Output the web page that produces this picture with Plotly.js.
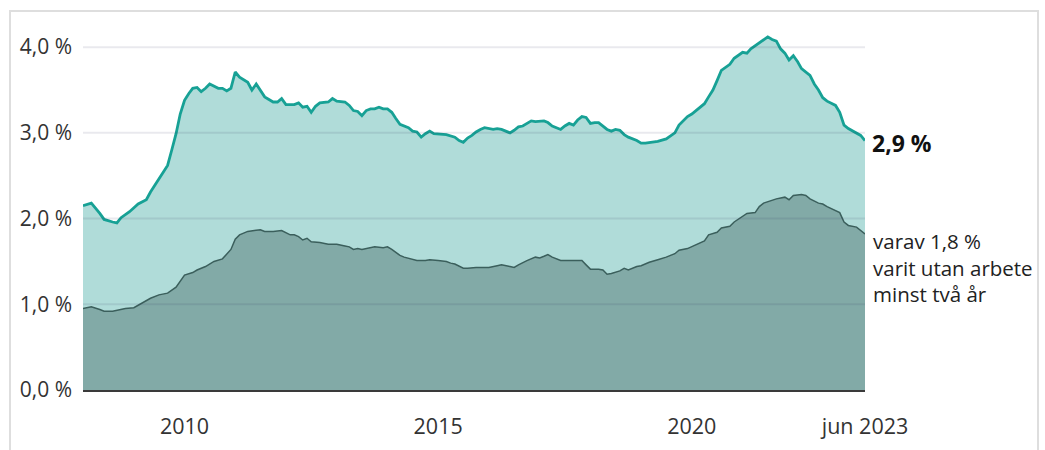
<!DOCTYPE html>
<html>
<head>
<meta charset="utf-8">
<script src="https://cdn.plot.ly/plotly-3.0.1.min.js"></script>
<style>
  html, body { margin: 0; padding: 0; background: #fff; }
  #wrap { position: relative; width: 1045px; height: 450px; overflow: hidden; }
  #chart { position: absolute; left: 0; top: 0; width: 1045px; height: 450px; }
  #frame { position: absolute; left: 9px; top: 10px; width: 1030px; height: 460px;
           border: 2px solid #dedede; pointer-events: none; box-sizing: border-box; }
</style>
</head>
<body>
<div id="wrap"><div id="chart"></div><div id="frame"></div></div>
<script>
// Total share of registered unemployed (%)
const totalDates = ["2008-01","2008-03","2008-05","2008-06","2008-08","2008-09","2008-10","2008-12",
"2009-02","2009-04","2009-05","2009-07","2009-09","2009-10","2009-11","2009-12",
"2010-01","2010-02","2010-03","2010-04","2010-05","2010-06","2010-07","2010-09","2010-10","2010-11","2010-12",
"2011-01","2011-02","2011-04","2011-05","2011-06","2011-07","2011-08","2011-10","2011-11","2011-12",
"2012-01","2012-03","2012-04","2012-05","2012-06","2012-07","2012-08","2012-09","2012-11","2012-12",
"2013-01","2013-03","2013-04","2013-05","2013-06","2013-07","2013-08","2013-09","2013-10","2013-11","2013-12",
"2014-01","2014-02","2014-03","2014-04","2014-06","2014-07","2014-08","2014-09","2014-10","2014-11","2014-12",
"2015-02","2015-03","2015-05","2015-06","2015-07","2015-08","2015-09","2015-10","2015-11","2015-12",
"2016-02","2016-03","2016-04","2016-05","2016-06","2016-07","2016-08","2016-09","2016-11","2016-12",
"2017-02","2017-03","2017-04","2017-06","2017-07","2017-08","2017-09","2017-10","2017-11","2017-12",
"2018-01","2018-02","2018-03","2018-05","2018-06","2018-07","2018-08","2018-09","2018-10","2018-12",
"2019-01","2019-02","2019-04","2019-05","2019-07","2019-09","2019-10","2019-12",
"2020-01","2020-02","2020-04","2020-05","2020-06","2020-07","2020-08","2020-10","2020-11",
"2021-01","2021-02","2021-03","2021-05","2021-06","2021-07","2021-08","2021-09","2021-10","2021-11","2021-12",
"2022-01","2022-02","2022-03","2022-05","2022-06","2022-07","2022-08","2022-09","2022-11","2022-12",
"2023-01","2023-02","2023-04","2023-05","2023-06"];
const totalValues = [2.15,2.18,2.06,1.99,1.96,1.95,2.01,2.08,
2.17,2.22,2.31,2.47,2.62,2.80,2.99,3.22,
3.38,3.46,3.52,3.53,3.48,3.52,3.57,3.52,3.52,3.49,3.52,
3.71,3.65,3.59,3.50,3.57,3.50,3.42,3.36,3.36,3.40,
3.33,3.33,3.35,3.30,3.31,3.24,3.31,3.35,3.36,3.40,
3.37,3.36,3.32,3.26,3.25,3.20,3.26,3.28,3.28,3.30,3.28,
3.28,3.24,3.17,3.10,3.06,3.02,3.01,2.95,2.99,3.02,2.99,
2.98,2.98,2.95,2.91,2.89,2.94,2.97,3.01,3.04,3.06,
3.04,3.05,3.04,3.02,3.00,3.03,3.07,3.08,3.14,3.13,
3.14,3.12,3.08,3.04,3.08,3.11,3.09,3.15,3.19,3.18,
3.11,3.12,3.12,3.04,3.02,3.04,3.03,2.98,2.95,2.91,
2.88,2.88,2.89,2.90,2.93,3.00,3.09,3.19,
3.22,3.26,3.34,3.42,3.50,3.61,3.73,3.80,3.87,
3.94,3.93,3.98,4.05,4.08,4.12,4.09,4.07,3.98,3.93,3.85,
3.90,3.83,3.75,3.67,3.57,3.50,3.41,3.37,3.32,3.24,
3.09,3.05,3.00,2.97,2.91];

// Of which: without work at least two years (%)
const longDates = ["2008-01","2008-03","2008-05","2008-06","2008-08","2008-11",
"2009-01","2009-03","2009-05","2009-07","2009-09","2009-11","2009-12",
"2010-01","2010-03","2010-04","2010-06","2010-08","2010-10","2010-11","2010-12",
"2011-01","2011-02","2011-04","2011-06","2011-07","2011-08","2011-10","2011-12",
"2012-02","2012-03","2012-04","2012-05","2012-06","2012-07","2012-09","2012-11",
"2013-01","2013-03","2013-04","2013-05","2013-06","2013-07","2013-08","2013-10","2013-12",
"2014-01","2014-02","2014-04","2014-05","2014-07","2014-08","2014-10","2014-11",
"2015-01","2015-03","2015-04","2015-05","2015-07","2015-08","2015-10",
"2016-01","2016-03","2016-04","2016-06","2016-07","2016-08","2016-10","2016-12",
"2017-01","2017-02","2017-03","2017-04","2017-06","2017-08","2017-09","2017-11","2017-12",
"2018-01","2018-03","2018-04","2018-05","2018-06","2018-08","2018-09","2018-10","2018-12",
"2019-01","2019-03","2019-05","2019-07","2019-09","2019-10","2019-12",
"2020-02","2020-04","2020-05","2020-07","2020-08","2020-10","2020-11",
"2021-01","2021-02","2021-04","2021-05","2021-06","2021-08","2021-09","2021-11","2021-12",
"2022-01","2022-03","2022-04","2022-05","2022-07","2022-08","2022-09","2022-10","2022-12",
"2023-01","2023-02","2023-04","2023-05","2023-06"];
const longValues = [0.95,0.97,0.94,0.92,0.92,0.95,
0.96,1.01,1.07,1.11,1.13,1.20,1.27,
1.34,1.37,1.40,1.44,1.50,1.53,1.59,1.64,
1.76,1.81,1.85,1.86,1.87,1.85,1.85,1.86,
1.81,1.81,1.79,1.75,1.77,1.73,1.72,1.70,
1.70,1.68,1.67,1.64,1.65,1.64,1.65,1.67,1.66,
1.67,1.64,1.57,1.55,1.52,1.51,1.51,1.52,
1.51,1.50,1.48,1.47,1.42,1.42,1.43,
1.43,1.45,1.46,1.44,1.43,1.46,1.51,1.55,
1.54,1.56,1.58,1.55,1.51,1.51,1.51,1.51,1.46,
1.41,1.41,1.40,1.35,1.36,1.39,1.42,1.40,1.44,
1.45,1.49,1.52,1.55,1.59,1.63,1.65,
1.70,1.74,1.81,1.84,1.89,1.91,1.96,
2.02,2.06,2.07,2.14,2.18,2.21,2.23,2.25,2.22,
2.27,2.28,2.27,2.23,2.18,2.17,2.14,2.12,2.07,
1.96,1.92,1.90,1.86,1.82];

const xTickVals = ["2010-01-01","2015-01-01","2020-01-01","2023-06-01"];
const xTickText = ["2010","2015","2020","jun 2023"];
const yTickVals = [0, 1, 2, 3, 4];
const yTickText = ["0,0 %","1,0 %","2,0 %","3,0 %","4,0 %"];
const totalLabel = "<b>2,9 %</b>";
const longLabelLines = ["varav 1,8 %", "varit utan arbete", "minst två år"];

const traces = [
  {
    x: totalDates, y: totalValues, type: "scatter", mode: "lines",
    fill: "tozeroy", fillcolor: "#b0dcd9",
    line: { color: "#17a195", width: 2.8 }, hoverinfo: "skip"
  },
  {
    x: longDates, y: longValues, type: "scatter", mode: "lines",
    fill: "tozeroy", fillcolor: "#82aaa7",
    line: { color: "#3b5f5c", width: 1.5 }, hoverinfo: "skip"
  }
];

const gridShapes = yTickVals.filter(v => v > 0).map(v => ({
  type: "line", xref: "paper", x0: 0, x1: 1, yref: "y", y0: v, y1: v,
  layer: "above", line: { color: "rgba(40,40,90,0.10)", width: 2 }
}));

const lastT = totalDates.length - 1;
const lastL = longDates.length - 1;
const annotations = [
  {
    x: totalDates[lastT], y: totalValues[lastT], xref: "x", yref: "y",
    text: totalLabel, showarrow: false, xanchor: "left", yanchor: "middle",
    xshift: 5, yshift: -2, font: { size: 23, color: "#111", family: "Open Sans" }
  },
  {
    x: longDates[lastL], y: longValues[lastL], xref: "x", yref: "y",
    text: longLabelLines.join("<br>"), showarrow: false, xanchor: "left", yanchor: "middle",
    align: "left", xshift: 6, yshift: -33,
    font: { size: 20.5, color: "#222", family: "Open Sans" }
  }
];

const layout = {
  width: 1045, height: 450,
  margin: { l: 83, r: 180, t: 30, b: 60 },
  paper_bgcolor: "#ffffff", plot_bgcolor: "#ffffff",
  font: { family: "Open Sans", size: 21, color: "#333" },
  showlegend: false,
  xaxis: {
    type: "date", range: ["2008-01-01", "2023-06-01"],
    tickmode: "array", tickvals: xTickVals, ticktext: xTickText,
    showgrid: false, zeroline: false, showline: true,
    linecolor: "#3a3a3a", linewidth: 1.5, ticks: "",
    ticklabelstandoff: 17, tickfont: { size: 21.5, color: "#333" }, fixedrange: true
  },
  yaxis: {
    range: [0, 4.2], tickmode: "array", tickvals: yTickVals, ticktext: yTickText,
    showgrid: false, zeroline: false, showline: false, ticks: "",
    ticklabelstandoff: 10, tickfont: { size: 21, color: "#333" }, fixedrange: true
  },
  shapes: gridShapes,
  annotations: annotations
};

Plotly.newPlot("chart", traces, layout, { displayModeBar: false, staticPlot: true });
</script>
</body>
</html>
